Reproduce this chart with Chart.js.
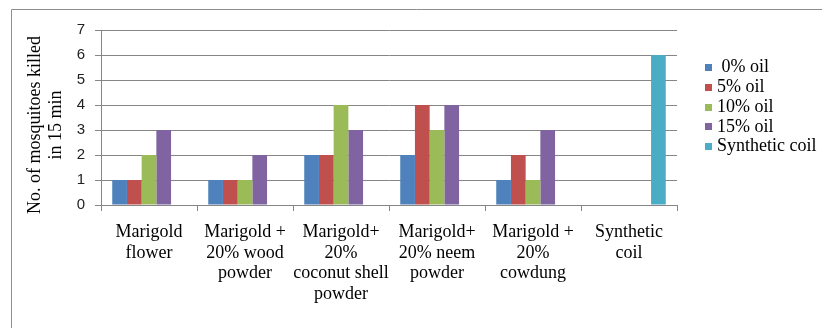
<!DOCTYPE html>
<html>
<head>
<meta charset="utf-8">
<script src="https://cdn.jsdelivr.net/npm/chart.js@4/dist/chart.umd.min.js"></script>
<style>
  html, body { margin: 0; padding: 0; background: #fff; }
  canvas { display: block; }
</style>
</head>
<body>
<canvas id="chart" width="822" height="328"></canvas>
<script>
// Categories (multi-line axis labels)
const categories = [
  ["Marigold", "flower"],
  ["Marigold +", "20% wood", "powder"],
  ["Marigold+", "20%", "coconut shell", "powder"],
  ["Marigold+", "20% neem", "powder"],
  ["Marigold +", "20%", "cowdung"],
  ["Synthetic", "coil"]
];

// Series
const seriesNames = [" 0% oil", "5% oil", "10% oil", "15% oil", "Synthetic coil"];
const oil0 = [1, 1, 2, 2, 1, null];
const oil5 = [1, 1, 2, 4, 2, null];
const oil10 = [2, 1, 4, 3, 1, null];
const oil15 = [3, 2, 3, 4, 3, null];
const syntheticCoil = [null, null, null, null, null, 6];

// Axis
const yTicks = [0, 1, 2, 3, 4, 5, 6, 7];
const yTitle = ["No. of mosquitoes killed", "in 15 min"];

const colors = ["#4F81BD", "#C0504D", "#9BBB59", "#8064A2", "#4BACC6"];
const seriesValues = [oil0, oil5, oil10, oil15, syntheticCoil];

const SERIF = "Liberation Serif, DejaVu Serif, serif";
const SANS = "Liberation Sans, Arial, sans-serif";
const GRID = "#868686";

// Outer frame of the chart
const framePlugin = {
  id: "frame",
  beforeDraw(chart) {
    const ctx = chart.ctx;
    ctx.save();
    ctx.strokeStyle = "#8e8e8e";
    ctx.lineWidth = 1;
    ctx.beginPath();
    ctx.moveTo(11.5, chart.height);
    ctx.lineTo(11.5, 9.5);
    ctx.lineTo(chart.width, 9.5);
    ctx.stroke();
    ctx.restore();
  }
};

// Rotated two-line y-axis title
const yTitlePlugin = {
  id: "yTitle",
  afterDraw(chart) {
    const ctx = chart.ctx;
    ctx.save();
    ctx.translate(35, 125);
    ctx.rotate(-Math.PI / 2);
    ctx.font = "18px " + SERIF;
    ctx.fillStyle = "#000";
    ctx.textAlign = "center";
    ctx.textBaseline = "middle";
    yTitle.forEach((line, i) => ctx.fillText(line, 0, i * 21));
    ctx.restore();
  }
};

// Legend to the right of the plot
const legendPlugin = {
  id: "sideLegend",
  afterDraw(chart) {
    const ctx = chart.ctx;
    ctx.save();
    ctx.font = "18px " + SERIF;
    ctx.textBaseline = "middle";
    ctx.textAlign = "left";
    chart.data.datasets.forEach((ds, i) => {
      const cy = 67.5 + i * 19.8;
      ctx.fillStyle = ds.backgroundColor;
      ctx.fillRect(705, Math.round(cy - 3.5), 7, 7);
      ctx.fillStyle = "#000";
      ctx.fillText(ds.label, 717, cy);
    });
    ctx.restore();
  }
};

function draw() {
  new Chart(document.getElementById("chart"), {
    type: "bar",
    data: {
      labels: categories,
      datasets: seriesNames.map((name, i) => ({
        label: name,
        data: seriesValues[i],
        backgroundColor: colors[i],
        borderWidth: 0,
        categoryPercentage: 0.766,
        barPercentage: 1
      }))
    },
    options: {
      responsive: false,
      animation: false,
      devicePixelRatio: 1,
      layout: { padding: { top: 30, right: 145, left: 0, bottom: 0 } },
      plugins: {
        legend: { display: false },
        tooltip: { enabled: false }
      },
      scales: {
        x: {
          offset: true,
          grid: {
            display: true,
            drawOnChartArea: false,
            drawTicks: true,
            tickLength: 6,
            color: GRID,
            offset: true
          },
          border: { color: GRID },
          ticks: {
            color: "#000",
            padding: 11,
            maxRotation: 0,
            autoSkip: false,
            font: { family: SERIF, size: 18, lineHeight: 1.14 }
          },
          afterFit(scale) { scale.height = 123; }
        },
        y: {
          min: 0,
          max: 7,
          afterBuildTicks(scale) { scale.ticks = yTicks.map(v => ({ value: v })); },
          grid: { color: GRID, tickLength: 6, drawTicks: true },
          border: { color: GRID },
          ticks: {
            color: "#222",
            padding: 10,
            font: { family: SANS, size: 15 }
          },
          afterFit(scale) { scale.width = 101; }
        }
      }
    },
    plugins: [framePlugin, yTitlePlugin, legendPlugin]
  });
}

if (document.fonts && document.fonts.load) {
  Promise.all([
    document.fonts.load("18px Liberation Serif"),
    document.fonts.load("15px Liberation Sans")
  ]).then(draw, draw);
} else {
  draw();
}
</script>
</body>
</html>
